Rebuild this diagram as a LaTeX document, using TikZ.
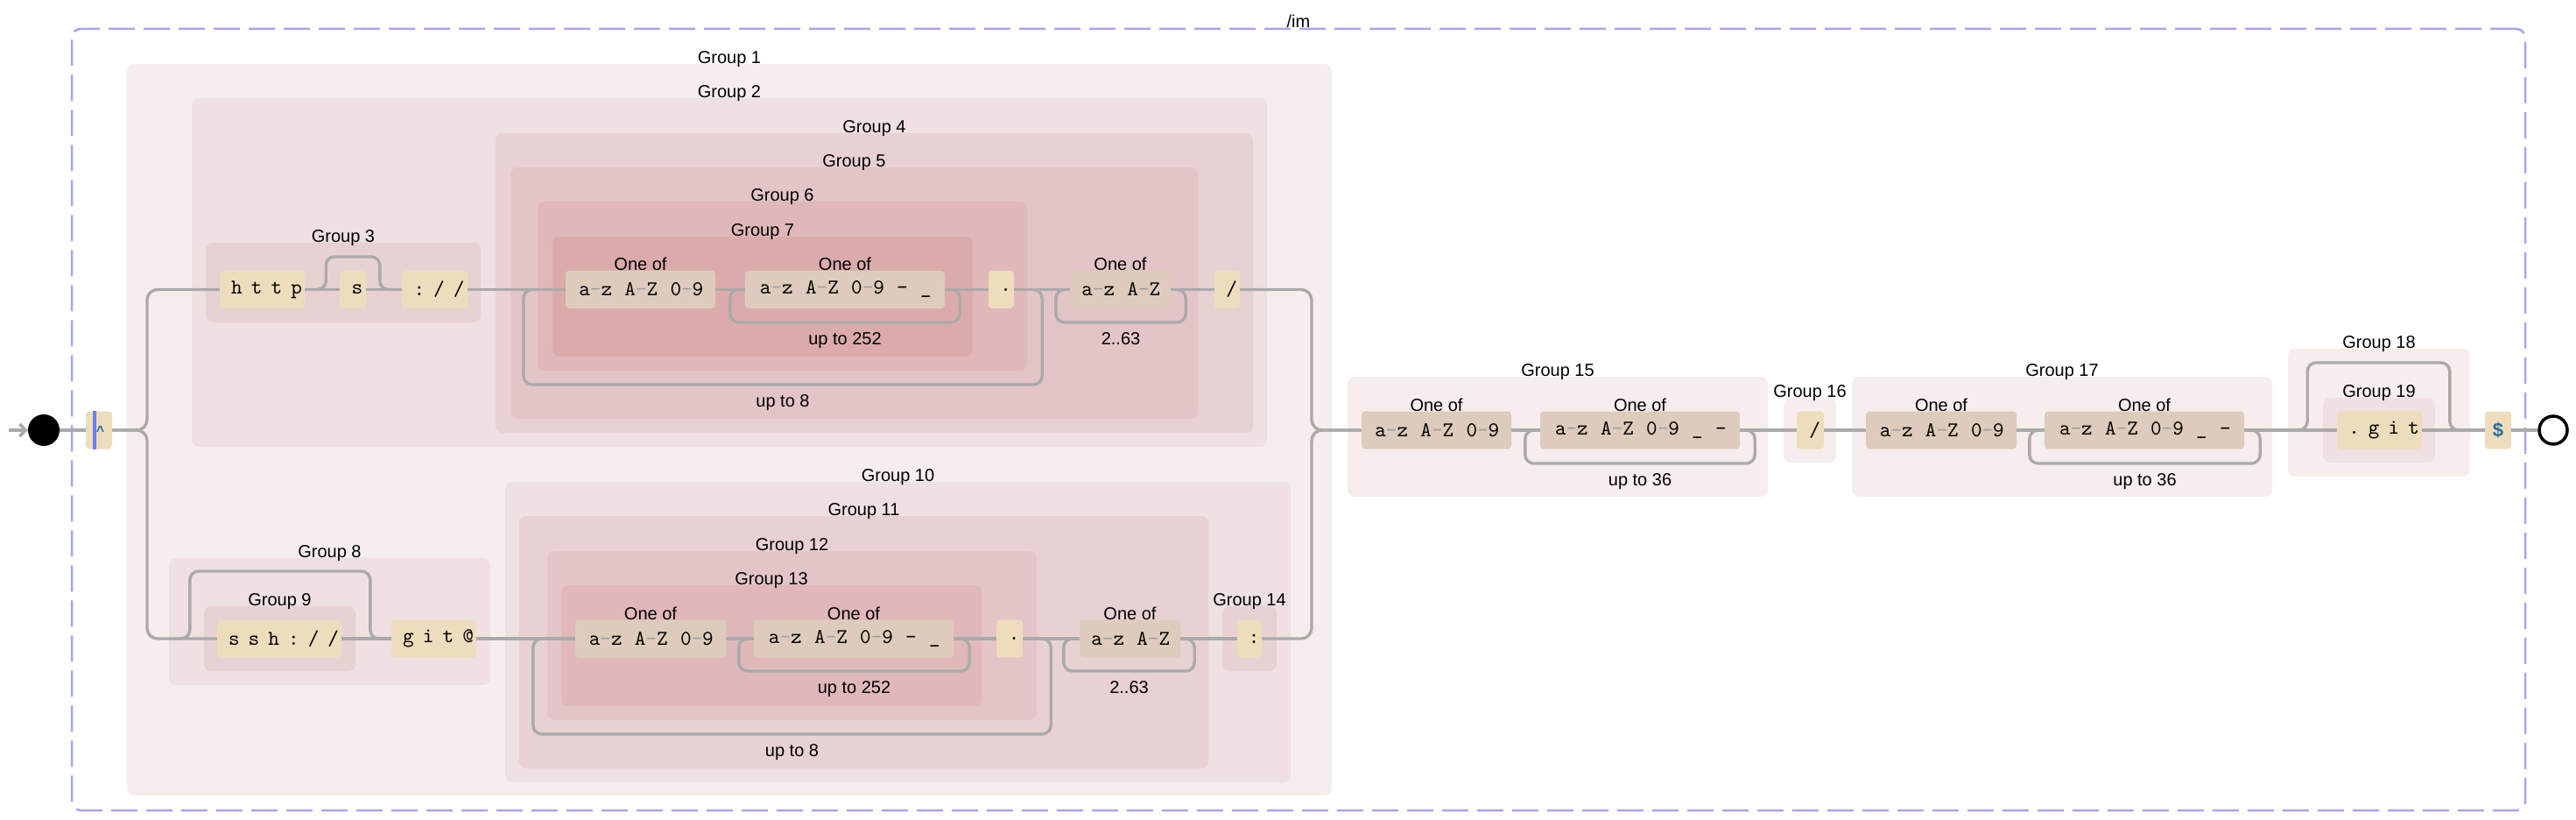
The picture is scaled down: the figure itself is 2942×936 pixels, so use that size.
\documentclass[tikz,border=0pt]{standalone}
\usepackage{fontspec}
\setmainfont{Liberation Sans}
\newfontfamily\litfont{lmmono10-regular.otf}[LetterSpace=42]
\newfontfamily\clsfont{lmmono10-regular.otf}[LetterSpace=7]
\usetikzlibrary{arrows.meta}

\definecolor{dep1}{RGB}{246,238,237}
\definecolor{dep2}{RGB}{239,224,225}
\definecolor{dep3}{RGB}{232,209,211}
\definecolor{dep4}{RGB}{228,197,199}
\definecolor{dep5}{RGB}{224,184,186}
\definecolor{dep6}{RGB}{219,171,172}
\definecolor{litfill}{RGB}{237,221,189}
\definecolor{clsfill}{RGB}{221,204,188}
\definecolor{railgray}{RGB}{170,170,170}
\definecolor{rnggray}{RGB}{160,160,160}
\definecolor{dashblue}{RGB}{165,165,240}
\definecolor{ancblue}{RGB}{42,110,160}
\definecolor{barblue}{RGB}{110,125,250}

\newcommand\rng[2]{#1\textcolor{rnggray}{-}#2}
\newcommand\littext[1]{{\fontsize{24}{24}\litfont#1\kern-10.08pt}}
\newcommand\clstext[1]{{\fontsize{24}{24}\clsfont#1\kern-1.68pt}}

\begin{document}
\begin{tikzpicture}[x=1pt,y=-1pt,
  glbl/.style={font=\fontsize{20}{24}\selectfont,anchor=base,inner sep=0},
  grp/.style={fill=#1,inner sep=0,rounded corners=8,label distance=3.5},
  lit/.style={fill=litfill,rounded corners=4,minimum height=43,inner sep=0},
  cls/.style={fill=clsfill,rounded corners=4,minimum height=43,inner sep=0,label distance=4,label={[glbl]above:One of}},
  rail/.style={draw=railgray,line width=3.4,line join=round}]
  \useasboundingbox (0,0) rectangle (2942,936);

  \node[draw=dashblue,line width=2.5,dash pattern=on 30pt off 10pt,rounded corners=10,minimum width=2802,minimum height=892,inner sep=0,label distance=3,label={[glbl]above:/im}] (re) at (1483,479) {};

  \node[grp=dep1,minimum width=1376,minimum height=835,label={[glbl]above:Group 1}] (g1) at (833,490.5) {};
  \node[grp=dep2,minimum width=1228,minimum height=398,label={[glbl]above:Group 2}] (g2) at (833,311) {};
  \node[grp=dep3,minimum width=314,minimum height=91,label={[glbl]above:Group 3}] (g3) at (392,322.5) {};
  \node[grp=dep3,minimum width=865,minimum height=342,label={[glbl]above:Group 4}] (g4) at (998.5,323) {};
  \node[grp=dep4,minimum width=785,minimum height=287,label={[glbl]above:Group 5}] (g5) at (975.5,334.5) {};
  \node[grp=dep5,minimum width=559,minimum height=193,label={[glbl]above:Group 6}] (g6) at (893.5,326.5) {};
  \node[grp=dep6,minimum width=480,minimum height=137,label={[glbl]above:Group 7}] (g7) at (871,338.5) {};
  \node[grp=dep2,minimum width=367,minimum height=145,label={[glbl]above:Group 8}] (g8) at (376.5,709.5) {};
  \node[grp=dep3,minimum width=173,minimum height=74,label={[glbl]above:Group 9}] (g9) at (319.5,729) {};
  \node[grp=dep2,minimum width=897,minimum height=343,label={[glbl]above:Group 10}] (g10) at (1025.5,721.5) {};
  \node[grp=dep3,minimum width=787,minimum height=288,label={[glbl]above:Group 11}] (g11) at (986.5,733) {};
  \node[grp=dep4,minimum width=559,minimum height=193,label={[glbl]above:Group 12}] (g12) at (904.5,725.5) {};
  \node[grp=dep5,minimum width=480,minimum height=138,label={[glbl]above:Group 13}] (g13) at (881,737) {};
  \node[grp=dep3,minimum width=62,minimum height=74,label={[glbl]above:Group 14}] (g14) at (1427,729) {};
  \node[grp=dep1,minimum width=480,minimum height=137,label={[glbl]above:Group 15}] (g15) at (1779,498.5) {};
  \node[grp=dep1,minimum width=60,minimum height=74,label={[glbl]above:Group 16}] (g16) at (2067,491) {};
  \node[grp=dep1,minimum width=480,minimum height=137,label={[glbl]above:Group 17}] (g17) at (2355,498.5) {};
  \node[grp=dep1,minimum width=208,minimum height=146,label={[glbl]above:Group 18}] (g18) at (2717,471) {};
  \node[grp=dep2,minimum width=128,minimum height=74,label={[glbl]above:Group 19}] (g19) at (2717,491) {};

  \node[circle,fill=black,minimum size=36,inner sep=0] (start) at (50,491) {};
  \node[circle,draw=black,line width=3.5,minimum size=32,inner sep=0] (stop) at (2916,491) {};
  \coordinate (in) at (10,491);
  \coordinate (fork) at (168,491);
  \coordinate (join) at (1498,491);

  \node[lit,minimum width=30] (hat) at (113,491) {};
  \fill[barblue] ([xshift=8]hat.north west) rectangle ([xshift=12]hat.south west);
  \node[anchor=base,inner sep=0,font=\fontsize{16}{16}\selectfont\bfseries,text=ancblue] (caret) at (114.5,497) {\string^};

  \node[lit,minimum width=97] (http) at (299.5,330.5) {\littext{http}};
  \node[lit,minimum width=30] (s) at (403,330.5) {\littext{s}};
  \node[lit,minimum width=75] (slashes) at (496.5,330.5) {\littext{://}};
  \node[cls,minimum width=171] (t1) at (731.5,330.5) {\clstext{\rng az \rng AZ \rng 09}};
  \node[cls,minimum width=228] (t2) at (965,330.5) {\clstext{\rng az \rng AZ \rng 09 - \_}};
  \node[lit,minimum width=29] (tdot) at (1143.5,330.5) {\littext{.}};
  \node[cls,minimum width=115] (t3) at (1279.5,330.5) {\clstext{\rng az \rng AZ}};
  \node[lit,minimum width=29] (tslash) at (1401.5,330.5) {\littext{/}};

  \node[lit,minimum width=142] (ssh) at (319,729) {\littext{ssh://}};
  \node[lit,minimum width=97] (git) at (495.5,729) {\littext{git@}};
  \node[cls,minimum width=172] (b1) at (743,729) {\clstext{\rng az \rng AZ \rng 09}};
  \node[cls,minimum width=228] (b2) at (975,729) {\clstext{\rng az \rng AZ \rng 09 - \_}};
  \node[lit,minimum width=30] (bdot) at (1153,729) {\littext{.}};
  \node[cls,minimum width=115] (b3) at (1290.5,729) {\clstext{\rng az \rng AZ}};
  \node[lit,minimum width=28] (colon) at (1427,729) {\littext{:}};

  \node[cls,minimum width=171] (r1) at (1640.5,491) {\clstext{\rng az \rng AZ \rng 09}};
  \node[cls,minimum width=228] (r2) at (1873,491) {\clstext{\rng az \rng AZ \rng 09 \_ -}};
  \node[lit,minimum width=31] (rslash) at (2067.5,491) {\littext{/}};
  \node[cls,minimum width=172] (r3) at (2217,491) {\clstext{\rng az \rng AZ \rng 09}};
  \node[cls,minimum width=228] (r4) at (2449,491) {\clstext{\rng az \rng AZ \rng 09 \_ -}};
  \node[lit,minimum width=97] (dotgit) at (2717.5,491) {\littext{.git}};
  \node[lit,minimum width=30,font=\fontsize{22}{22}\selectfont\bfseries,text=ancblue] (dollar) at (2853,491) {\$};

  \node[glbl] (rep1) at (965,393) {up to 252};
  \node[glbl] (rep2) at (894,464) {up to 8};
  \node[glbl] (rep3) at (1280,393) {2..63};
  \node[glbl] (rep4) at (975.5,791) {up to 252};
  \node[glbl] (rep5) at (904.5,863) {up to 8};
  \node[glbl] (rep6) at (1289.5,791) {2..63};
  \node[glbl] (rep7) at (1873,554) {up to 36};
  \node[glbl] (rep8) at (2449.5,554) {up to 36};

  \draw[rail,-{Straight Barb[length=7pt,width=14pt]}] (in) -- (start);
  \draw[rail] (start) -- (hat);
  \draw[rail,rounded corners=12] (hat) -- (fork) |- (http);
  \draw[rail,rounded corners=12] (hat) -- (fork) |- (ssh);

  \draw[rail] (http) -- (s) -- (slashes) -- (t1) -- (t2) -- (tdot) -- (t3) -- (tslash);
  \draw[rail,rounded corners=10] (http.east) -| ++(24,-37.5) -| ([xshift=-25]slashes.west) -- (slashes.west);
  \draw[rail,rounded corners=10] (t1.west) -- ++(-48,0) -- ++(0,108.5) -| ([xshift=32]tdot.east) -- (tdot.east);
  \draw[rail,rounded corners=10] (t2.west) -- ++(-17,0) -- ++(0,37.5) -| ([xshift=17]t2.east) -- (t2.east);
  \draw[rail,rounded corners=10] (t3.west) -- ++(-16,0) -- ++(0,37.5) -| ([xshift=17]t3.east) -- (t3.east);
  \draw[rail,rounded corners=12] (tslash) -| (join) -- (r1);

  \draw[rail] (ssh) -- (git) -- (b1) -- (b2) -- (bdot) -- (b3) -- (colon);
  \draw[rail,rounded corners=10] ([xshift=-50]ssh.west) -| ++(19,-77) -| ([xshift=-24]git.west) -- (git.west);
  \draw[rail,rounded corners=10] (b1.west) -- ++(-48,0) -- ++(0,109) -| ([xshift=32]bdot.east) -- (bdot.east);
  \draw[rail,rounded corners=10] (b2.west) -- ++(-17,0) -- ++(0,37) -| ([xshift=18]b2.east) -- (b2.east);
  \draw[rail,rounded corners=10] (b3.west) -- ++(-18,0) -- ++(0,37) -| ([xshift=16]b3.east) -- (b3.east);
  \draw[rail,rounded corners=12] (colon) -| (join) -- (r1);

  \draw[rail] (r1) -- (r2) -- (rslash) -- (r3) -- (r4) -- (dotgit) -- (dollar) -- (stop);
  \draw[rail,rounded corners=10] (r2.west) -- ++(-17,0) -- ++(0,38) -| ([xshift=17]r2.east) -- (r2.east);
  \draw[rail,rounded corners=10] (r4.west) -- ++(-17,0) -- ++(0,38) -| ([xshift=18]r4.east) -- (r4.east);
  \draw[rail,rounded corners=10] (r4.east) -| ++(72,-77) -| ([xshift=-40]dollar.west) -- (dollar.west);
\end{tikzpicture}
\end{document}
